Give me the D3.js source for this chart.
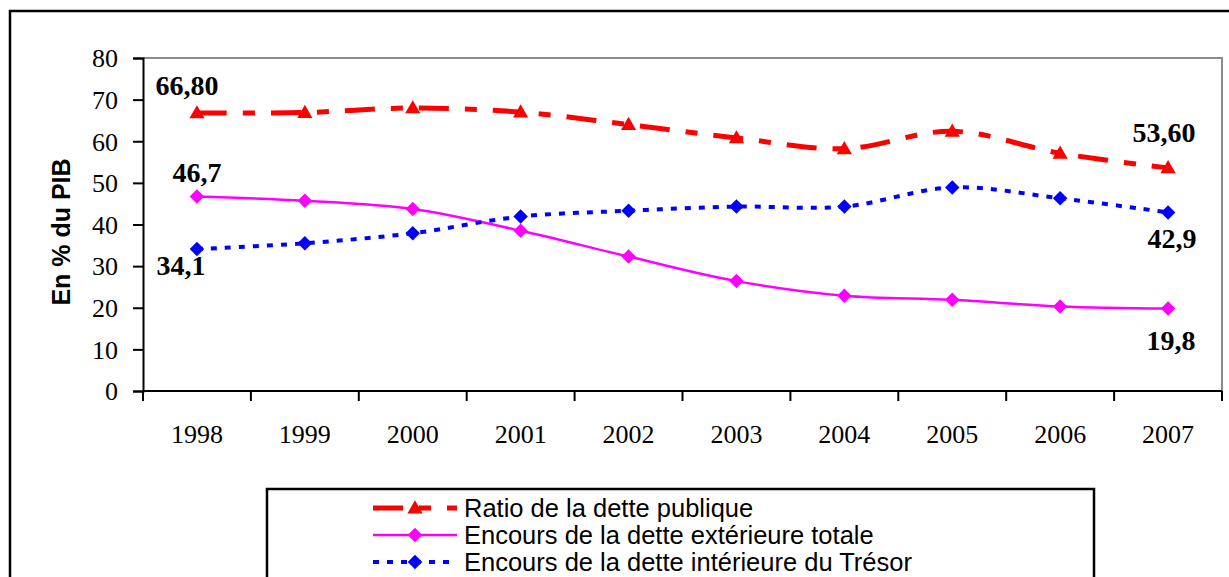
<!DOCTYPE html>
<html>
<head>
<meta charset="utf-8">
<script src="https://cdn.jsdelivr.net/npm/d3@7"></script>
<style>
  body { margin: 0; background: #fff; }
  svg { display: block; }
</style>
</head>
<body>
<svg id="chart"></svg>
<script>
// data (% du PIB)
var years = ["1998", "1999", "2000", "2001", "2002", "2003", "2004", "2005", "2006", "2007"];
var ratioDette = [66.8, 66.9, 68.0, 67.0, 64.0, 60.8, 58.2, 62.4, 57.1, 53.6];
var detteExterieure = [46.7, 45.7, 43.7, 38.5, 32.3, 26.4, 22.9, 21.9, 20.3, 19.8];
var detteInterieure = [34.1, 35.5, 37.9, 41.9, 43.3, 44.3, 44.3, 48.9, 46.3, 42.9];
var yTicks = [0, 10, 20, 30, 40, 50, 60, 70, 80];
var seriesNames = ["Ratio de la dette publique",
                   "Encours de la dette extérieure totale",
                   "Encours de la dette intérieure du Trésor"];
// data labels: series index, point index, text
var dataLabels = [
    [0, 0, "66,80"], [0, 9, "53,60"],
    [1, 0, "46,7"], [1, 9, "19,8"],
    [2, 0, "34,1"], [2, 9, "42,9"]
];

var W = 1229, H = 577;
var plot = { left: 143, top: 58, right: 1222, bottom: 391 };

var svg = d3.select("#chart").attr("width", W).attr("height", H);
svg.append("rect").attr("width", W).attr("height", H).attr("fill", "#fff");

// outer chart border
svg.append("rect")
    .attr("x", 10).attr("y", 11).attr("width", 1240).attr("height", 600)
    .attr("fill", "none").attr("stroke", "#000").attr("stroke-width", 2.5);

var x = d3.scaleBand().domain(years).range([plot.left, plot.right]).padding(0);
var y = d3.scaleLinear().domain([0, 80]).range([plot.bottom, plot.top]);
var cx = function (i) { return x(years[i]) + x.bandwidth() / 2; };

// plot area frame (grey top / right)
svg.append("path")
    .attr("d", "M" + plot.left + "," + plot.top + "H" + plot.right + "V" + plot.bottom)
    .attr("fill", "none").attr("stroke", "#8c8c8c").attr("stroke-width", 2);

// y axis
var yAxis = svg.append("g")
    .attr("transform", "translate(" + plot.left + ",0)")
    .call(d3.axisLeft(y).tickValues(yTicks).tickSize(10).tickPadding(15));
yAxis.select(".domain").attr("stroke", "#000").attr("stroke-width", 2);
yAxis.selectAll(".tick line").attr("stroke", "#000").attr("stroke-width", 2);
yAxis.selectAll(".tick text")
    .attr("font-family", "'Liberation Serif', 'Times New Roman', serif")
    .attr("font-size", 26).attr("fill", "#000").attr("dy", "0.34em");

// x axis: labels centred, ticks between categories
var xAxis = svg.append("g")
    .attr("transform", "translate(0," + plot.bottom + ")")
    .call(d3.axisBottom(x).tickSize(0).tickPadding(34));
xAxis.select(".domain").remove();
xAxis.selectAll(".tick text")
    .attr("font-family", "'Liberation Serif', 'Times New Roman', serif")
    .attr("font-size", 26).attr("fill", "#000");
svg.append("line")
    .attr("x1", plot.left).attr("x2", plot.right)
    .attr("y1", plot.bottom).attr("y2", plot.bottom)
    .attr("stroke", "#000").attr("stroke-width", 2);
var edges = years.map(function (d) { return x(d); }).concat([plot.right]);
svg.selectAll(".xtick").data(edges).enter().append("line")
    .attr("class", "xtick")
    .attr("x1", function (d) { return d; }).attr("x2", function (d) { return d; })
    .attr("y1", plot.bottom).attr("y2", plot.bottom + 10)
    .attr("stroke", "#000").attr("stroke-width", 2);

// y title
svg.append("text")
    .attr("transform", "translate(70,232) rotate(-90)")
    .attr("text-anchor", "middle")
    .attr("font-family", "'Liberation Sans', Arial, sans-serif")
    .attr("font-weight", "bold").attr("font-size", 25)
    .text("En % du PIB");

// series styles
var styles = [
    { values: ratioDette, color: "#ff0000", width: 5, dash: "30,16,12,16", symbol: "triangle" },
    { values: detteExterieure, color: "#ff00ff", width: 2.5, dash: null, symbol: "diamond" },
    { values: detteInterieure, color: "#0000ff", width: 4, dash: "6,8", symbol: "diamond" }
];

var line = d3.line()
    .x(function (d, i) { return cx(i); })
    .y(function (d) { return y(d); })
    .curve(d3.curveCatmullRom.alpha(0.5));

var triangle = d3.symbol().type(d3.symbolTriangle).size(100);
var square = d3.symbol().type(d3.symbolSquare).size(105);

function marker(g, type, color) {
    if (type === "triangle") {
        g.append("path").attr("d", triangle()).attr("transform", "translate(0,1)").attr("fill", color);
    } else {
        g.append("path").attr("d", square()).attr("transform", "rotate(45)").attr("fill", color);
    }
}

styles.forEach(function (s) {
    svg.append("path")
        .datum(s.values)
        .attr("d", line)
        .attr("fill", "none")
        .attr("stroke", s.color)
        .attr("stroke-width", s.width)
        .attr("stroke-dasharray", s.dash);
    svg.selectAll(null).data(s.values).enter().append("g")
        .attr("transform", function (d, i) { return "translate(" + cx(i) + "," + y(d) + ")"; })
        .each(function () { marker(d3.select(this), s.symbol, s.color); });
});

// data labels
var labelOffsets = [[-10, -18], [-4, -26], [0, -15], [3, 41], [-16, 26], [4, 36]];
dataLabels.forEach(function (l, k) {
    var v = styles[l[0]].values[l[1]];
    svg.append("text")
        .attr("x", cx(l[1]) + labelOffsets[k][0])
        .attr("y", y(v) + labelOffsets[k][1])
        .attr("text-anchor", "middle")
        .attr("font-family", "'Liberation Serif', 'Times New Roman', serif")
        .attr("font-weight", "bold").attr("font-size", 28)
        .text(l[2]);
});

// legend
svg.append("rect")
    .attr("x", 267).attr("y", 489).attr("width", 827).attr("height", 120)
    .attr("fill", "#fff").attr("stroke", "#000").attr("stroke-width", 2.5);
var leg = svg.selectAll(".leg").data(styles).enter().append("g")
    .attr("class", "leg")
    .attr("transform", function (d, i) { return "translate(0," + (508 + i * 27) + ")"; });
leg.append("line")
    .attr("x1", 373).attr("x2", 457)
    .attr("stroke", function (d) { return d.color; })
    .attr("stroke-width", function (d) { return d.width; })
    .attr("stroke-dasharray", function (d) { return d.dash; });
leg.append("g").attr("transform", "translate(415,0)")
    .each(function (d) { marker(d3.select(this), d.symbol, d.color); });
leg.append("text")
    .attr("x", 464).attr("dy", "0.35em")
    .attr("font-family", "'Liberation Sans', Arial, sans-serif")
    .attr("font-size", 25.5)
    .text(function (d, i) { return seriesNames[i]; });
</script>
</body>
</html>
